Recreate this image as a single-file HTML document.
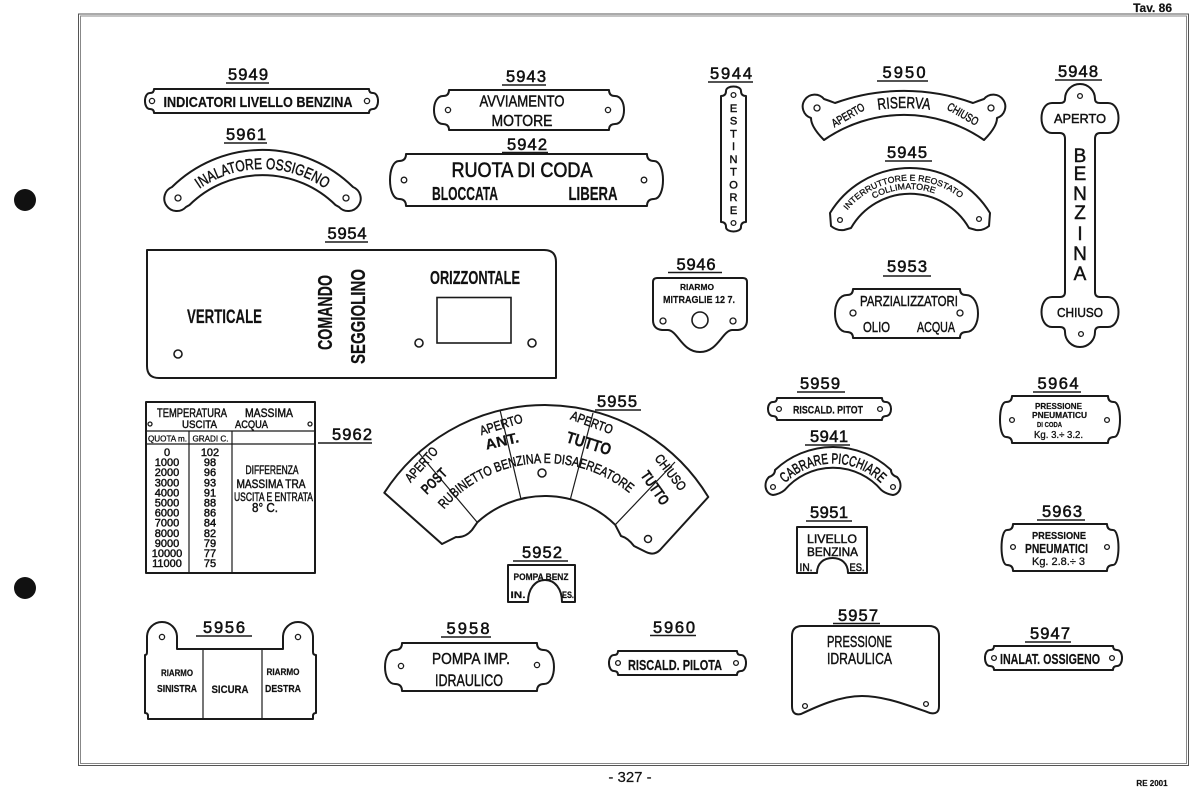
<!DOCTYPE html>
<html><head><meta charset="utf-8"><title>Tav. 86</title>
<style>
html,body{margin:0;padding:0;background:#fff;}
svg{display:block;}
</style></head>
<body>
<svg width="1200" height="804" viewBox="0 0 1200 804" xmlns="http://www.w3.org/2000/svg">
<style>
.p{fill:none;stroke:#1a1a1a;stroke-width:2;stroke-linejoin:round}
.h{fill:none;stroke:#1a1a1a;stroke-width:1.3}
.l{stroke:#1a1a1a;stroke-width:1.4}
.t{stroke:#1a1a1a;stroke-width:1.2}
text{font-family:"Liberation Sans Narrow","Liberation Sans",sans-serif;fill:#111;stroke:#111;stroke-width:0.45px}
.n{font-family:"Liberation Sans",sans-serif;font-size:16.5px;text-anchor:middle;stroke-width:0.55px}
.c{text-anchor:middle}
.b{font-weight:bold;stroke-width:0.2px}
</style>
<rect width="1200" height="804" fill="#fff"/>
<!-- frame -->
<rect x="78.5" y="14" width="1110" height="751.5" fill="none" stroke="#555" stroke-width="1"/>
<rect x="80.5" y="16" width="1106" height="747.5" fill="none" stroke="#888" stroke-width="1"/>
<text x="1172" y="12" class="b" style="font-family:'Liberation Sans',sans-serif;font-size:12px;text-anchor:end">Tav. 86</text>
<circle cx="25" cy="200" r="11" fill="#111"/>
<circle cx="25" cy="588" r="11" fill="#111"/>
<text x="630" y="782" class="c" style="font-family:'Liberation Sans',sans-serif;font-size:15px;stroke-width:0.2px">- 327 -</text>
<text x="1152" y="786" class="c b" style="font-family:'Liberation Sans',sans-serif;font-size:8px">RE 2001</text>

<!-- labels -->
<g>
<text class="n" x="248" y="80" textLength="40">5949</text><line class="l" x1="226" y1="83" x2="269" y2="83"/>
<text class="n" x="246" y="140" textLength="40">5961</text><line class="l" x1="224" y1="143" x2="267" y2="143"/>
<text class="n" x="526" y="82" textLength="40">5943</text><line class="l" x1="502" y1="85" x2="546" y2="85"/>
<text class="n" x="527" y="150" textLength="40">5942</text><line class="l" x1="502" y1="152.5" x2="548" y2="152.5"/>
<text class="n" x="731" y="79" textLength="42">5944</text><line class="l" x1="708" y1="82" x2="753" y2="82"/>
<text class="n" x="904" y="78" textLength="43">5950</text><line class="l" x1="877" y1="81" x2="928" y2="81"/>
<text class="n" x="907" y="158" textLength="40">5945</text><line class="l" x1="885" y1="161" x2="932" y2="161"/>
<text class="n" x="1078" y="77" textLength="40">5948</text><line class="l" x1="1055" y1="80" x2="1102" y2="80"/>
<text class="n" x="907" y="272" textLength="40">5953</text><line class="l" x1="883" y1="276" x2="931" y2="276"/>
<text class="n" x="347" y="239" textLength="39">5954</text><line class="l" x1="325" y1="242" x2="368" y2="242"/>
<text class="n" x="352" y="440" textLength="40">5962</text><line class="l" x1="318" y1="443" x2="372" y2="443"/>
<text class="n" x="617" y="407" textLength="40">5955</text><line class="l" x1="595" y1="410" x2="641" y2="410"/>
<text class="n" x="542" y="558" textLength="40">5952</text><line class="l" x1="513" y1="561" x2="568" y2="561"/>
<text class="n" x="696" y="270" textLength="39">5946</text><line class="l" x1="668" y1="272.5" x2="722" y2="272.5"/>
<text class="n" x="820" y="389" textLength="40">5959</text><line class="l" x1="797" y1="392" x2="845" y2="392"/>
<text class="n" x="829" y="442" textLength="38">5941</text><line class="l" x1="805" y1="445" x2="850" y2="445"/>
<text class="n" x="829" y="518" textLength="38">5951</text><line class="l" x1="806" y1="521" x2="852" y2="521"/>
<text class="n" x="1058" y="389" textLength="41">5964</text><line class="l" x1="1033" y1="392" x2="1081" y2="392"/>
<text class="n" x="1062" y="517" textLength="40">5963</text><line class="l" x1="1037" y1="520" x2="1085" y2="520"/>
<text class="n" x="224" y="633" textLength="42">5956</text><line class="l" x1="196" y1="636" x2="252" y2="636"/>
<text class="n" x="468" y="634" textLength="43">5958</text><line class="l" x1="441" y1="637" x2="491" y2="637"/>
<text class="n" x="674" y="633" textLength="42">5960</text><line class="l" x1="650" y1="635.5" x2="696" y2="635.5"/>
<text class="n" x="858" y="621" textLength="40">5957</text><line class="l" x1="833" y1="623.5" x2="880" y2="623.5"/>
<text class="n" x="1050" y="639" textLength="40">5947</text><line class="l" x1="1025" y1="642" x2="1071" y2="642"/>
</g>

<!-- 5949 -->
<path class="p" d="M154,89 L369,89 Q369,93 373,93 C379.7,93 379.7,109 373,109 Q369,109 369,113 L154,113 Q154,109 150,109 C143.3,109 143.3,93 150,93 Q154,93 154,89 Z"/>
<circle class="h" cx="152" cy="101" r="2.6"/><circle class="h" cx="367" cy="101" r="2.6"/>
<text class="c b" x="258" y="107" style="font-size:15px" textLength="189" lengthAdjust="spacingAndGlyphs">INDICATORI  LIVELLO  BENZINA</text>

<!-- 5961 -->
<path class="p" d="M172,187 A129,129 0 0 1 353,187 A12.5,12.5 0 1 1 339,207 L335.5,205 A104,104 0 0 0 189.5,205 L186,207 A12.5,12.5 0 1 1 172,187 Z"/>
<circle class="h" cx="178" cy="198" r="3"/><circle class="h" cx="346" cy="198" r="3"/>
<path id="a61" d="M191.8,194.7 A110,110 0 0 1 333.2,194.7" fill="none" stroke="none"/>
<text style="font-size:15.5px"><textPath href="#a61" startOffset="50%" text-anchor="middle" textLength="134" lengthAdjust="spacingAndGlyphs">INALATORE  OSSIGENO</textPath></text>

<!-- 5943 -->
<path class="p" d="M449,90 L609,90 Q609,96 615,96 C627,96 627,124 615,124 Q609,124 609,130 L449,130 Q449,124 443,124 C431,124 431,96 443,96 Q449,96 449,90 Z"/>
<circle class="h" cx="448" cy="110" r="2.6"/><circle class="h" cx="608" cy="110" r="2.6"/>
<text class="c" x="522" y="106.5" style="font-size:16px" textLength="85" lengthAdjust="spacingAndGlyphs">AVVIAMENTO</text>
<text class="c" x="522" y="126" style="font-size:16px" textLength="61" lengthAdjust="spacingAndGlyphs">MOTORE</text>

<!-- 5942 -->
<path class="p" d="M406,154 L647,154 Q647,161 654,161 C666,161 666,199 654,199 Q647,199 647,206 L406,206 Q406,199 399,199 C387,199 387,161 399,161 Q406,161 406,154 Z"/>
<circle class="h" cx="404" cy="180" r="2.8"/><circle class="h" cx="644" cy="180" r="2.8"/>
<text class="c" x="522" y="177" style="font-size:21px;stroke-width:0.6px" textLength="141" lengthAdjust="spacingAndGlyphs">RUOTA  DI  CODA</text>
<text class="c b" x="465" y="200" style="font-size:18px" textLength="66" lengthAdjust="spacingAndGlyphs">BLOCCATA</text>
<text class="c b" x="593" y="200" style="font-size:18px" textLength="49" lengthAdjust="spacingAndGlyphs">LIBERA</text>

<!-- 5944 -->
<path class="p" d="M721,96 Q726,96 726,91 C726,85 741,85 741,91 Q741,96 746,96 L746,222 Q741,222 741,227 C741,233 726,233 726,227 Q726,222 721,222 Z"/>
<circle class="h" cx="733.5" cy="95" r="2.4"/><circle class="h" cx="733.5" cy="223" r="2.4"/>
<g class="c" style="font-size:11px">
<text x="733.5" y="112">E</text><text x="733.5" y="124.7">S</text><text x="733.5" y="137.5">T</text><text x="733.5" y="150.2">I</text><text x="733.5" y="163">N</text><text x="733.5" y="175.7">T</text><text x="733.5" y="188.5">O</text><text x="733.5" y="201.2">R</text><text x="733.5" y="214">E</text>
</g>

<!-- 5950 -->
<path class="p" d="M824,140 C817,133 811,125 811,118 A12,12 0 1 1 824,99 Q830,101 835,103 A202.6,202.6 0 0 1 973,103 Q978,101 984,99 A12,12 0 1 1 997,118 C997,125 991,133 984,140 A140,140 0 0 0 824,140 Z"/>
<circle class="h" cx="817" cy="108" r="3"/><circle class="h" cx="991" cy="108" r="3"/>
<path id="a50" d="M871.9,110.8 A184.6,184.6 0 0 1 936.1,110.8" fill="none" stroke="none"/>
<text style="font-size:16px"><textPath href="#a50" startOffset="50%" text-anchor="middle" textLength="52" lengthAdjust="spacingAndGlyphs">RISERVA</textPath></text>
<g transform="translate(848,115) rotate(-30)"><text class="c" x="0" y="4" style="font-size:11.5px" textLength="36" lengthAdjust="spacingAndGlyphs">APERTO</text></g>
<g transform="translate(963,114) rotate(30)"><text class="c" x="0" y="4" style="font-size:11.5px" textLength="34" lengthAdjust="spacingAndGlyphs">CHIUSO</text></g>

<!-- 5945 -->
<path class="p" d="M830,213 A93.6,93.6 0 0 1 990,213 L989,226 Q983,231 976,230 L969,228 A68,68 0 0 0 851,228 L844,230 Q837,231 831,226 Z"/>
<circle class="h" cx="840" cy="220" r="2.4"/><circle class="h" cx="979" cy="219" r="2.4"/>
<path id="a45a" d="M839.9,221.1 A81,81 0 0 1 970.2,207.4" fill="none" stroke="none"/>
<path id="a45b" d="M847.2,225.4 A72.5,72.5 0 0 1 965.5,215" fill="none" stroke="none"/>
<text style="font-size:8.5px;stroke-width:0.3px"><textPath href="#a45a" startOffset="50%" text-anchor="middle" textLength="126" lengthAdjust="spacingAndGlyphs">INTERRUTTORE E REOSTATO</textPath></text>
<text style="font-size:8.5px;stroke-width:0.3px"><textPath href="#a45b" startOffset="50%" text-anchor="middle" textLength="63" lengthAdjust="spacingAndGlyphs">COLLIMATORE</textPath></text>

<!-- 5948 -->
<path class="p" d="M1065,99 A15,15 0 0 1 1095,99 Q1095,103 1100,103 L1108,103 C1122,103 1122,133 1108,133 L1100,133 Q1095,133 1095,139 L1095,292 Q1095,297 1100,297 L1108,297 C1122,297 1122,327 1108,327 L1100,327 Q1095,327 1095,332 A15,15 0 0 1 1065,332 Q1065,327 1060,327 L1052,327 C1038,327 1038,297 1052,297 L1060,297 Q1065,297 1065,292 L1065,139 Q1065,133 1060,133 L1052,133 C1038,133 1038,103 1052,103 L1060,103 Q1065,103 1065,99 Z"/>
<circle class="h" cx="1080" cy="96" r="2.4"/><circle class="h" cx="1081" cy="334" r="2.4"/>
<text class="c" x="1080" y="123" style="font-size:13px" textLength="52" lengthAdjust="spacingAndGlyphs">APERTO</text>
<text class="c" x="1080" y="317" style="font-size:13px" textLength="46" lengthAdjust="spacingAndGlyphs">CHIUSO</text>
<g class="c" style="font-size:19px;stroke-width:0.8px">
<text x="1080" y="162">B</text><text x="1080" y="180">E</text><text x="1080" y="200">N</text><text x="1080" y="219">Z</text><text x="1080" y="240">I</text><text x="1080" y="260">N</text><text x="1080" y="280">A</text>
</g>

<!-- 5954 -->
<path class="p" d="M147,250 L544,250 Q556,250 556,262 L556,378 L159,378 Q147,378 147,366 Z"/>
<rect class="h" x="437" y="297.5" width="74" height="45.5" style="stroke-width:1.6"/>
<circle class="h" cx="178" cy="354" r="4" style="stroke-width:1.6"/>
<circle class="h" cx="419" cy="343" r="4" style="stroke-width:1.6"/>
<circle class="h" cx="532" cy="343" r="4" style="stroke-width:1.6"/>
<text class="c b" x="224.5" y="323" style="font-size:19px" textLength="75" lengthAdjust="spacingAndGlyphs">VERTICALE</text>
<text class="c b" x="475" y="284" style="font-size:18px" textLength="90" lengthAdjust="spacingAndGlyphs">ORIZZONTALE</text>
<g transform="translate(332,312.5) rotate(-90)"><text class="c b" x="0" y="0" style="font-size:20px" textLength="75" lengthAdjust="spacingAndGlyphs">COMANDO</text></g>
<g transform="translate(365,316.5) rotate(-90)"><text class="c b" x="0" y="0" style="font-size:20px" textLength="95" lengthAdjust="spacingAndGlyphs">SEGGIOLINO</text></g>

<!-- 5962 table -->
<rect class="p" x="146" y="402" width="169" height="171"/>
<line class="t" x1="146" y1="431" x2="315" y2="431"/>
<line class="t" x1="146" y1="444" x2="315" y2="444"/>
<line class="t" x1="189" y1="431" x2="189" y2="573"/>
<line class="t" x1="232" y1="431" x2="232" y2="573"/>
<circle class="h" cx="150" cy="424" r="2"/><circle class="h" cx="310" cy="424" r="2"/>
<text class="c" x="192" y="417" style="font-size:12px" textLength="70" lengthAdjust="spacingAndGlyphs">TEMPERATURA</text>
<text class="c" x="269" y="417" style="font-size:12px" textLength="48" lengthAdjust="spacingAndGlyphs">MASSIMA</text>
<text class="c" x="199.5" y="428" style="font-size:11px" textLength="35" lengthAdjust="spacingAndGlyphs">USCITA</text>
<text class="c" x="251.5" y="428" style="font-size:11px" textLength="33" lengthAdjust="spacingAndGlyphs">ACQUA</text>
<text class="c" x="167.5" y="441.5" style="font-size:8px;stroke-width:0.3px" textLength="39" lengthAdjust="spacingAndGlyphs">QUOTA m.</text>
<text class="c" x="210.5" y="441.5" style="font-size:8px;stroke-width:0.3px" textLength="36" lengthAdjust="spacingAndGlyphs">GRADI C.</text>
<g class="c" style="font-size:11px">
<text x="167" y="456">0</text><text x="210" y="456">102</text>
<text x="167" y="466.1">1000</text><text x="210" y="466.1">98</text>
<text x="167" y="476.2">2000</text><text x="210" y="476.2">96</text>
<text x="167" y="486.3">3000</text><text x="210" y="486.3">93</text>
<text x="167" y="496.4">4000</text><text x="210" y="496.4">91</text>
<text x="167" y="506.5">5000</text><text x="210" y="506.5">88</text>
<text x="167" y="516.6">6000</text><text x="210" y="516.6">86</text>
<text x="167" y="526.7">7000</text><text x="210" y="526.7">84</text>
<text x="167" y="536.8">8000</text><text x="210" y="536.8">82</text>
<text x="167" y="546.9">9000</text><text x="210" y="546.9">79</text>
<text x="167" y="557">10000</text><text x="210" y="557">77</text>
<text x="167" y="567.1">11000</text><text x="210" y="567.1">75</text>
</g>
<text class="c" x="272" y="474" style="font-size:12px" textLength="53" lengthAdjust="spacingAndGlyphs">DIFFERENZA</text>
<text class="c" x="271" y="488" style="font-size:12px" textLength="69" lengthAdjust="spacingAndGlyphs">MASSIMA  TRA</text>
<text class="c" x="273.5" y="501" style="font-size:12px" textLength="79" lengthAdjust="spacingAndGlyphs">USCITA E ENTRATA</text>
<text class="c" x="265" y="512" style="font-size:13px" textLength="26" lengthAdjust="spacingAndGlyphs">8° C.</text>

<!-- 5955 -->
<path class="p" d="M384.3,492.8 A191,191 0 0 1 708.3,497 L660,550 Q654,556 646,552 L634,546 Q628,538 621,536 L615.2,524.8 A100,100 0 0 0 477.3,522.4 L472,530 Q465,538 456,537 L442,544 Z"/>
<line class="t" x1="418" y1="452" x2="477.3" y2="522.4"/>
<line class="t" x1="500" y1="410" x2="521" y2="499"/>
<line class="t" x1="593" y1="413" x2="570.4" y2="499"/>
<line class="t" x1="675" y1="462" x2="615.2" y2="524.8"/>
<circle class="h" cx="542" cy="473" r="4" style="stroke-width:1.5"/>
<circle class="h" cx="648" cy="539" r="3.5" style="stroke-width:1.5"/>
<path id="a55" d="M429.8,529.5 A133,133 0 0 1 646.9,510.5" fill="none" stroke="none"/>
<text style="font-size:13.5px"><textPath href="#a55" startOffset="50%" text-anchor="middle" textLength="206" lengthAdjust="spacingAndGlyphs">RUBINETTO BENZINA E DISAEREATORE</textPath></text>
<g transform="translate(421,464) rotate(-48)"><text class="c" x="0" y="5" style="font-size:13px" textLength="42" lengthAdjust="spacingAndGlyphs">APERTO</text></g>
<g transform="translate(434,481) rotate(-45)"><text class="c b" x="0" y="5" style="font-size:14.5px" textLength="30" lengthAdjust="spacingAndGlyphs">POST</text></g>
<g transform="translate(501,424) rotate(-17)"><text class="c" x="0" y="5" style="font-size:13px" textLength="44" lengthAdjust="spacingAndGlyphs">APERTO</text></g>
<g transform="translate(502,441) rotate(-13)"><text class="c b" x="0" y="5" style="font-size:14.5px" textLength="34" lengthAdjust="spacingAndGlyphs">ANT.</text></g>
<g transform="translate(592,422) rotate(20)"><text class="c" x="0" y="5" style="font-size:13px" textLength="44" lengthAdjust="spacingAndGlyphs">APERTO</text></g>
<g transform="translate(589,443) rotate(17)"><text class="c b" x="0" y="6" style="font-size:16.5px" textLength="46" lengthAdjust="spacingAndGlyphs">TUTTO</text></g>
<g transform="translate(671,472) rotate(52)"><text class="c" x="0" y="5" style="font-size:13px" textLength="42" lengthAdjust="spacingAndGlyphs">CHIUSO</text></g>
<g transform="translate(655,488) rotate(55)"><text class="c b" x="0" y="5" style="font-size:15px" textLength="38" lengthAdjust="spacingAndGlyphs">TUTTO</text></g>

<!-- 5952 -->
<path class="p" d="M508,565 L575,565 L575,602 L562,602 C562,589 555,580 545,580 C535,580 528,589 528,602 L508,602 Z"/>
<text class="c b" x="541" y="580" style="font-size:9px" textLength="55" lengthAdjust="spacingAndGlyphs">POMPA BENZ</text>
<text class="c b" x="518" y="598" style="font-size:9px" textLength="15" lengthAdjust="spacingAndGlyphs">IN.</text>
<text class="c b" x="568" y="598" style="font-size:9px" textLength="12" lengthAdjust="spacingAndGlyphs">ES.</text>

<!-- 5946 -->
<path class="p" d="M657,278 L743,278 Q747,278 747,282 L747,320 Q747,329 738,330 L732,330 C722,331 718,352 700,352 C682,352 678,331 668,330 L662,330 Q653,329 653,320 L653,282 Q653,278 657,278 Z"/>
<circle class="h" cx="663" cy="321" r="3"/><circle class="h" cx="733" cy="321" r="3"/>
<circle class="h" cx="700" cy="320" r="8" style="stroke-width:1.6"/>
<text class="c b" x="697" y="290" style="font-size:8.5px" textLength="34" lengthAdjust="spacingAndGlyphs">RIARMO</text>
<text class="c b" x="699" y="303" style="font-size:10px" textLength="72" lengthAdjust="spacingAndGlyphs">MITRAGLIE 12 7.</text>

<!-- 5953 -->
<path class="p" d="M853,289 L960,289 Q960,295 966,295 C982,295 982,332 966,332 Q960,332 960,338 L853,338 Q853,332 847,332 C831,332 831,295 847,295 Q853,295 853,289 Z"/>
<circle class="h" cx="853" cy="313" r="3"/><circle class="h" cx="960" cy="313" r="3"/>
<text class="c" x="909" y="306" style="font-size:15px" textLength="98" lengthAdjust="spacingAndGlyphs">PARZIALIZZATORI</text>
<text class="c" x="876.5" y="332" style="font-size:15px" textLength="27" lengthAdjust="spacingAndGlyphs">OLIO</text>
<text class="c" x="936" y="332" style="font-size:15px" textLength="38" lengthAdjust="spacingAndGlyphs">ACQUA</text>

<!-- 5959 -->
<path class="p" d="M777,398 L882,398 Q882,402 886,402 C892.7,402 892.7,416 886,416 Q882,416 882,420 L777,420 Q777,416 773,416 C766.3,416 766.3,402 773,402 Q777,402 777,398 Z"/>
<circle class="h" cx="779" cy="409" r="2.4"/><circle class="h" cx="880" cy="409" r="2.4"/>
<text class="c b" x="828" y="413.5" style="font-size:11px" textLength="70" lengthAdjust="spacingAndGlyphs">RISCALD. PITOT</text>

<!-- 5941 -->
<path class="p" d="M775,470 A84.5,84.5 0 0 1 891,470 Q891,475 897,477 C903,483 901,494 893,495 Q886,494 881.3,490 A63.5,63.5 0 0 0 784.7,490 Q780,494 773,495 C765,494 763,483 769,477 Q775,475 775,470 Z"/>
<circle class="h" cx="773" cy="487" r="2.4"/><circle class="h" cx="893" cy="487" r="2.4"/>
<path id="a41" d="M780.9,487.8 A68,68 0 0 1 885.1,487.8" fill="none" stroke="none"/>
<text style="font-size:14.5px;stroke-width:0.55px"><textPath href="#a41" startOffset="50%" text-anchor="middle" textLength="106" lengthAdjust="spacingAndGlyphs">CABRARE  PICCHIARE</textPath></text>

<!-- 5951 -->
<path class="p" d="M797,527 L867,527 L867,573 L848,573 C848,563 841,558 832.5,558 C824,558 817,563 817,573 L797,573 Z"/>
<text class="c" x="832" y="543" style="font-size:12px" textLength="50" lengthAdjust="spacingAndGlyphs">LIVELLO</text>
<text class="c" x="832.5" y="556" style="font-size:12px" textLength="51" lengthAdjust="spacingAndGlyphs">BENZINA</text>
<text class="c" x="806" y="571" style="font-size:11px" textLength="13" lengthAdjust="spacingAndGlyphs">IN.</text>
<text class="c" x="857" y="571" style="font-size:11px" textLength="15" lengthAdjust="spacingAndGlyphs">ES.</text>

<!-- 5964 -->
<path class="p" d="M1012,396 L1108,396 Q1108,402 1114,402 C1122,402 1122,437 1114,437 Q1108,437 1108,443 L1012,443 Q1012,437 1006,437 C998,437 998,402 1006,402 Q1012,402 1012,396 Z"/>
<circle class="h" cx="1012" cy="420" r="2.4"/><circle class="h" cx="1107" cy="420" r="2.4"/>
<text class="c b" x="1058.5" y="409" style="font-size:8.5px" textLength="47" lengthAdjust="spacingAndGlyphs">PRESSIONE</text>
<text class="c b" x="1059.5" y="418" style="font-size:8.5px" textLength="55" lengthAdjust="spacingAndGlyphs">PNEUMATICU</text>
<text class="c b" x="1049.5" y="427" style="font-size:7.5px" textLength="25" lengthAdjust="spacingAndGlyphs">DI CODA</text>
<text class="c" x="1058.5" y="438" style="font-size:10px;stroke-width:0.3px" textLength="49" lengthAdjust="spacingAndGlyphs">Kg. 3.÷ 3.2.</text>

<!-- 5963 -->
<path class="p" d="M1013,524 L1107,524 Q1107,530 1113,530 C1120.3,530 1120.3,565 1113,565 Q1107,565 1107,571 L1013,571 Q1013,565 1007,565 C999.7,565 999.7,530 1007,530 Q1013,530 1013,524 Z"/>
<circle class="h" cx="1013" cy="547" r="2.4"/><circle class="h" cx="1107" cy="547" r="2.4"/>
<text class="c b" x="1059" y="539" style="font-size:10px" textLength="54" lengthAdjust="spacingAndGlyphs">PRESSIONE</text>
<text class="c b" x="1056.5" y="553" style="font-size:12.5px" textLength="63" lengthAdjust="spacingAndGlyphs">PNEUMATICI</text>
<text class="c" x="1058.5" y="565" style="font-size:11px;stroke-width:0.3px" textLength="53" lengthAdjust="spacingAndGlyphs">Kg. 2.8.÷ 3</text>

<!-- 5956 -->
<path class="p" d="M147,637 A15,15 0 0 1 177,637 L177,649 L283,649 L283,637 A15,15 0 0 1 313,637 L313,652 Q313,655 316,655 L316,713 Q313,713 313,716 L313,719 L148,719 L148,716 Q148,713 145,713 L145,655 Q147,655 147,652 Z"/>
<circle class="h" cx="162" cy="637" r="2.6"/><circle class="h" cx="298" cy="637" r="2.6"/>
<line class="t" x1="203" y1="649" x2="203" y2="719"/>
<line class="t" x1="262" y1="649" x2="262" y2="719"/>
<text class="c b" x="177" y="676" style="font-size:9.5px" textLength="32" lengthAdjust="spacingAndGlyphs">RIARMO</text>
<text class="c b" x="177" y="692" style="font-size:10.5px" textLength="40" lengthAdjust="spacingAndGlyphs">SINISTRA</text>
<text class="c b" x="230" y="693" style="font-size:11px" textLength="37" lengthAdjust="spacingAndGlyphs">SICURA</text>
<text class="c b" x="283" y="675" style="font-size:9.5px" textLength="33" lengthAdjust="spacingAndGlyphs">RIARMO</text>
<text class="c b" x="283" y="692" style="font-size:10.5px" textLength="36" lengthAdjust="spacingAndGlyphs">DESTRA</text>

<!-- 5958 -->
<path class="p" d="M402,643 L537,643 Q537,650 544,650 C557.3,650 557.3,684 544,684 Q537,684 537,691 L402,691 Q402,684 395,684 C381.7,684 381.7,650 395,650 Q402,650 402,643 Z"/>
<circle class="h" cx="401" cy="666" r="2.6"/><circle class="h" cx="537" cy="665" r="2.6"/>
<text class="c" x="471" y="664" style="font-size:16px" textLength="78" lengthAdjust="spacingAndGlyphs">POMPA  IMP.</text>
<text class="c" x="469" y="686" style="font-size:17px" textLength="68" lengthAdjust="spacingAndGlyphs">IDRAULICO</text>

<!-- 5960 -->
<path class="p" d="M618,651 L737,651 Q737,655 741,655 C747.7,655 747.7,671 741,671 Q737,671 737,675 L618,675 Q618,671 614,671 C607.3,671 607.3,655 614,655 Q618,655 618,651 Z"/>
<circle class="h" cx="618" cy="663" r="2.4"/><circle class="h" cx="736" cy="663" r="2.4"/>
<text class="c b" x="675" y="670" style="font-size:15px" textLength="94" lengthAdjust="spacingAndGlyphs">RISCALD. PILOTA</text>

<!-- 5957 -->
<path class="p" d="M802,626 L929,626 Q939,626 939,636 L939,706 Q939,715 930,713 C910,706 885,696 862,696 C840,696 818,706 801,714 Q792,716 792,706 L792,636 Q792,626 802,626 Z"/>
<circle class="h" cx="805" cy="706" r="2.4"/><circle class="h" cx="926" cy="704" r="2.4"/>
<text class="c" x="859.5" y="647" style="font-size:16px" textLength="65" lengthAdjust="spacingAndGlyphs">PRESSIONE</text>
<text class="c" x="859.5" y="664" style="font-size:16px" textLength="65" lengthAdjust="spacingAndGlyphs">IDRAULICA</text>

<!-- 5947 -->
<path class="p" d="M994,646 L1113,646 Q1113,650 1117,650 C1123.7,650 1123.7,666 1117,666 Q1113,666 1113,670 L994,670 Q994,666 990,666 C983.3,666 983.3,650 990,650 Q994,650 994,646 Z"/>
<circle class="h" cx="994" cy="658" r="2.4"/><circle class="h" cx="1112" cy="658" r="2.4"/>
<text class="c b" x="1050" y="664" style="font-size:15px" textLength="100" lengthAdjust="spacingAndGlyphs">INALAT.  OSSIGENO</text>
</svg>
</body></html>
